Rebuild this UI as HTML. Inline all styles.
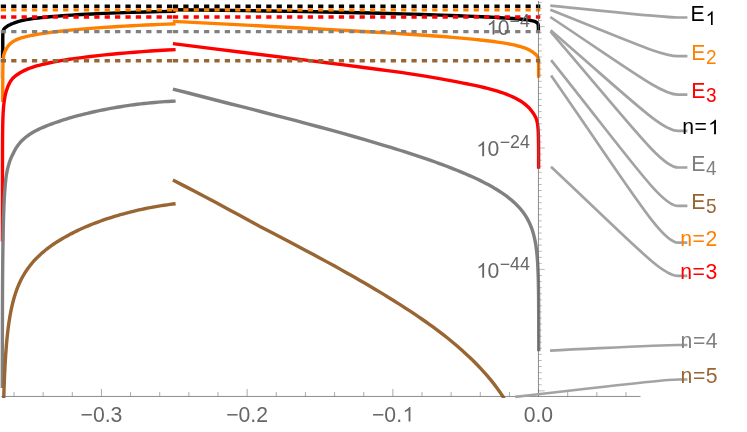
<!DOCTYPE html>
<html><head><meta charset="utf-8"><title>plot</title>
<style>html,body{margin:0;padding:0;background:#fff;}body{width:747px;height:432px;overflow:hidden;font-family:"Liberation Sans",sans-serif;}</style></head>
<body>
<svg width="747" height="432" viewBox="0 0 747 432" style="display:block">
<rect width="747" height="432" fill="#fff"/>
<defs><clipPath id="pc"><rect x="0" y="0" width="747" height="398"/></clipPath></defs>
<rect x="0" y="50" width="0.9" height="28.5" fill="#d3dbe4"/>
<g fill="none" stroke-linejoin="round" stroke-linecap="butt" clip-path="url(#pc)">
<path d="M2.76,58.00 L2.76,39.81 L2.78,36.99 L2.82,35.01 L2.85,34.07 L2.90,33.18 L2.97,32.43 L3.04,31.84 L3.13,31.30 L3.25,30.75 L3.40,30.28 L3.58,29.81 L3.71,29.54 L3.85,29.27 L4.17,28.79 L4.39,28.51 L4.58,28.31 L5.02,27.89 L5.46,27.53 L5.88,27.24 L6.24,27.02 L6.93,26.48 L7.41,26.14 L7.76,25.90 L8.32,25.56 L8.88,25.24 L9.44,24.95 L10.57,24.42 L11.13,24.18 L12.81,23.52 L13.37,23.28 L14.50,22.83 L15.62,22.42 L16.74,22.04 L17.86,21.68 L18.99,21.35 L20.67,20.91 L22.92,20.37 L25.16,19.89 L26.28,19.69 L28.53,19.31 L31.34,18.88 L34.70,18.42 L38.07,18.00 L41.44,17.62 L45.37,17.21 L49.86,16.77 L53.79,16.42 L57.72,16.09 L62.21,15.75 L66.70,15.42 L71.75,15.09 L76.24,14.81 L81.30,14.52 L86.35,14.25 L91.96,13.96 L98.14,13.67 L104.31,13.40 L111.05,13.12 L117.78,12.86 L124.52,12.63 L131.25,12.41 L145.29,11.99 L159.88,11.62 L175.60,11.28" stroke="#000000" stroke-width="3.4"/>
<path d="M172.90,9.78 L197.29,10.01 L220.79,10.27 L245.18,10.59 L268.67,10.94 L292.16,11.34 L314.75,11.76 L337.34,12.23 L359.93,12.75 L381.61,13.30 L402.39,13.88 L422.27,14.48 L441.24,15.12 L450.28,15.44 L458.41,15.75 L466.54,16.08 L474.67,16.42 L481.90,16.75 L488.22,17.06 L494.55,17.38 L499.97,17.68 L507.20,18.13 L513.52,18.57 L516.23,18.79 L518.94,19.02 L521.65,19.27 L523.46,19.46 L525.27,19.67 L527.08,19.90 L528.88,20.16 L530.69,20.46 L531.59,20.64 L532.50,20.84 L533.66,21.13 L534.59,21.42 L535.16,21.63 L535.80,21.91 L536.31,22.19 L536.52,22.33 L536.80,22.53 L536.97,22.67 L537.18,22.87 L537.47,23.20 L537.61,23.40 L537.73,23.60 L537.92,24.00 L538.07,24.46 L538.17,24.92 L538.25,25.45 L538.32,26.10 L538.35,26.82 L538.38,27.80 L538.40,31.00" stroke="#000000" stroke-width="3.4"/>
<path d="M2.74,102.00 L2.75,87.24 L2.78,78.00 L2.83,71.21 L2.91,66.23 L2.97,64.06 L3.03,62.53 L3.11,60.93 L3.22,59.40 L3.33,58.16 L3.47,56.98 L3.62,56.04 L3.79,55.15 L4.00,54.30 L4.25,53.50 L4.49,52.90 L4.69,52.29 L4.92,51.68 L5.16,51.08 L5.44,50.49 L5.86,49.73 L6.35,48.95 L6.62,48.42 L6.91,47.90 L7.39,47.11 L7.74,46.59 L8.30,45.83 L8.86,45.15 L9.42,44.53 L9.99,43.97 L10.55,43.45 L11.11,42.97 L11.67,42.52 L12.23,42.11 L12.79,41.72 L13.35,41.37 L14.48,40.72 L15.60,40.14 L16.72,39.60 L17.85,39.11 L18.97,38.66 L20.09,38.29 L21.21,37.95 L22.34,37.63 L23.46,37.32 L26.83,36.47 L29.63,35.82 L31.32,35.45 L32.44,35.23 L35.81,34.60 L38.62,34.11 L41.99,33.57 L45.92,32.98 L48.72,32.60 L53.21,32.03 L57.71,31.51 L62.76,30.95 L67.81,30.43 L73.42,29.89 L79.04,29.38 L84.65,28.90 L90.83,28.41 L97.56,27.90 L104.30,27.41 L111.04,26.96 L117.78,26.54 L124.51,26.14 L131.81,25.73 L138.55,25.38 L145.85,25.02 L153.14,24.69 L160.44,24.38 L167.74,24.10 L175.60,23.82" stroke="#ff8000" stroke-width="3.4"/>
<path d="M172.90,21.34 L271.44,26.45 L301.27,28.02 L326.59,29.39 L350.09,30.69 L371.79,31.93 L391.68,33.12 L408.85,34.20 L424.22,35.22 L431.46,35.73 L438.69,36.25 L445.92,36.81 L452.25,37.33 L458.58,37.86 L464.00,38.35 L469.43,38.85 L474.85,39.39 L480.27,39.95 L484.79,40.45 L489.31,40.99 L493.83,41.56 L497.45,42.06 L501.07,42.59 L504.68,43.17 L507.40,43.65 L509.20,43.98 L511.01,44.33 L513.72,44.90 L516.44,45.53 L519.15,46.23 L520.96,46.73 L521.86,47.01 L523.67,47.59 L524.57,47.91 L525.48,48.25 L526.38,48.61 L527.28,49.00 L528.19,49.41 L529.09,49.87 L530.00,50.36 L531.80,51.42 L532.71,52.02 L533.61,52.73 L534.13,53.18 L534.59,53.64 L535.00,53.93 L535.38,54.22 L535.86,54.64 L536.15,54.92 L536.63,55.43 L536.93,55.77 L537.26,56.22 L537.40,56.45 L537.46,56.58 L537.58,56.85 L537.73,57.26 L537.87,57.66 L537.98,58.07 L538.10,58.61 L538.24,59.59 L538.36,60.74 L538.44,61.90 L538.51,63.38 L538.55,65.03 L538.59,68.53 L538.61,77.70" stroke="#ff8000" stroke-width="3.4"/>
<path d="M2.44,241.40 L2.46,170.76 L2.49,153.90 L2.54,141.89 L2.58,136.25 L2.64,131.23 L2.70,126.82 L2.78,123.12 L2.87,119.57 L2.98,116.59 L3.11,113.68 L3.27,110.84 L3.40,109.00 L3.50,107.64 L3.76,104.98 L4.02,102.83 L4.53,99.17 L4.77,97.73 L4.94,96.78 L5.32,94.90 L5.53,93.97 L5.76,93.04 L6.00,92.13 L6.26,91.22 L6.54,90.32 L6.84,89.43 L7.16,88.55 L7.68,87.16 L8.25,85.73 L8.82,84.45 L9.39,83.29 L9.96,82.24 L10.52,81.32 L11.09,80.47 L11.65,79.68 L12.22,78.95 L12.78,78.29 L13.35,77.73 L13.91,77.21 L14.47,76.71 L15.03,76.25 L15.60,75.80 L16.16,75.38 L16.72,74.97 L17.84,74.22 L20.09,72.80 L20.65,72.46 L21.77,71.82 L22.90,71.21 L24.02,70.64 L25.14,70.10 L26.27,69.61 L27.39,69.14 L28.51,68.69 L29.63,68.26 L31.32,67.66 L32.44,67.28 L34.13,66.74 L35.81,66.23 L37.49,65.74 L39.18,65.28 L40.86,64.83 L42.55,64.41 L44.23,64.00 L46.48,63.48 L49.85,62.75 L52.09,62.30 L54.34,61.86 L58.83,61.03 L61.07,60.64 L63.88,60.17 L66.69,59.72 L69.49,59.29 L72.30,58.88 L75.67,58.40 L81.85,57.57 L85.21,57.15 L88.58,56.74 L98.13,55.64 L104.86,54.90 L111.60,54.22 L118.90,53.53 L126.76,52.84 L134.62,52.21 L142.48,51.62 L150.34,51.07 L158.76,50.54 L167.18,50.05 L175.60,49.60" stroke="#ff0000" stroke-width="3.4"/>
<path d="M172.90,43.63 L192.79,46.13 L214.49,48.84 L239.80,51.98 L305.80,60.12 L324.78,62.48 L341.96,64.64 L361.85,67.20 L379.02,69.46 L387.16,70.56 L395.30,71.67 L402.53,72.68 L408.86,73.59 L416.99,74.86 L425.13,76.18 L432.36,77.39 L439.59,78.65 L445.02,79.63 L450.44,80.64 L455.87,81.68 L459.48,82.35 L463.10,83.05 L466.72,83.76 L469.43,84.31 L474.85,85.45 L479.37,86.46 L483.89,87.52 L487.51,88.42 L490.22,89.12 L492.03,89.61 L495.65,90.63 L498.36,91.44 L500.17,92.02 L501.97,92.63 L503.78,93.26 L505.59,93.92 L507.40,94.62 L508.30,94.98 L510.11,95.72 L511.92,96.51 L513.73,97.35 L514.63,97.79 L516.44,98.70 L517.34,99.18 L518.25,99.68 L519.15,100.20 L520.05,100.74 L520.96,101.31 L521.86,101.90 L522.77,102.52 L523.67,103.18 L524.58,103.88 L525.48,104.62 L526.38,105.37 L527.29,106.16 L528.19,107.02 L529.10,107.95 L530.00,108.97 L530.90,110.09 L531.81,111.29 L532.71,112.41 L533.62,113.70 L534.13,114.54 L534.59,115.38 L535.01,116.09 L535.20,116.44 L535.55,117.15 L535.87,117.85 L536.15,118.55 L536.40,119.25 L536.52,119.62 L536.74,120.36 L536.93,121.10 L537.10,121.84 L537.26,122.57 L537.40,123.31 L537.52,124.08 L537.64,124.87 L537.78,126.04 L537.98,127.99 L538.08,129.16 L538.16,130.39 L538.29,132.95 L538.39,135.93 L538.46,138.91 L538.52,142.74 L538.56,147.00 L538.59,152.53 L538.61,168.80" stroke="#ff0000" stroke-width="3.4"/>
<path d="M2.32,388.00 L2.37,343.20 L2.46,308.27 L2.51,294.68 L2.58,281.35 L2.67,269.71 L2.78,258.27 L2.89,248.64 L3.04,239.21 L3.22,229.97 L3.40,222.45 L3.61,215.10 L3.87,207.92 L4.11,202.32 L4.24,199.57 L4.38,197.01 L4.70,192.02 L5.06,187.19 L5.26,184.84 L5.47,182.52 L5.70,180.25 L5.95,178.02 L6.08,176.95 L6.22,176.07 L6.65,173.49 L7.12,171.02 L7.47,169.43 L7.66,168.66 L8.23,166.44 L8.80,164.37 L9.38,162.45 L9.95,160.75 L10.51,159.23 L11.08,157.85 L11.65,156.59 L12.21,155.45 L12.78,154.40 L13.90,152.05 L14.47,150.94 L15.03,149.89 L15.59,148.91 L16.16,147.97 L16.72,147.09 L17.28,146.25 L17.84,145.45 L18.40,144.69 L18.97,143.97 L19.53,143.29 L20.09,142.63 L21.21,141.40 L22.34,140.26 L23.46,139.19 L24.58,138.19 L25.70,137.25 L26.83,136.38 L27.95,135.54 L29.07,134.75 L30.76,133.62 L31.32,133.26 L31.88,132.93 L33.00,132.28 L34.69,131.36 L36.37,130.48 L38.06,129.64 L39.74,128.84 L41.42,128.07 L43.67,127.09 L45.92,126.15 L48.16,125.26 L50.41,124.39 L52.65,123.56 L54.90,122.75 L57.71,121.78 L60.51,120.85 L63.32,119.95 L66.13,119.08 L68.93,118.24 L71.74,117.42 L75.11,116.48 L77.92,115.72 L81.28,114.83 L84.09,114.12 L87.46,113.29 L90.83,112.50 L94.20,111.73 L97.00,111.12 L100.37,110.41 L103.74,109.73 L107.11,109.07 L110.48,108.44 L113.85,107.84 L117.21,107.26 L120.58,106.70 L123.95,106.17 L127.32,105.67 L130.69,105.18 L134.06,104.73 L137.42,104.30 L140.79,103.89 L144.16,103.51 L148.09,103.09 L151.46,102.76 L154.83,102.45 L158.20,102.17 L161.56,101.91 L164.93,101.67 L168.30,101.46 L171.67,101.27 L175.60,101.09" stroke="#808080" stroke-width="3.4"/>
<path d="M172.90,89.09 L187.37,92.77 L201.84,96.48 L215.41,99.98 L228.97,103.50 L240.73,106.47 L251.58,109.22 L262.43,112.00 L272.38,114.56 L284.14,117.61 L295.90,120.70 L307.65,123.82 L318.50,126.74 L331.17,130.19 L342.92,133.45 L354.68,136.76 L365.53,139.88 L375.48,142.80 L385.43,145.78 L390.86,147.44 L395.38,148.83 L399.90,150.25 L404.42,151.68 L408.94,153.13 L413.46,154.60 L417.99,156.10 L422.51,157.62 L427.03,159.17 L430.65,160.42 L435.17,162.02 L438.79,163.33 L442.40,164.66 L446.02,166.01 L449.64,167.39 L453.26,168.80 L456.87,170.24 L459.59,171.34 L463.21,172.85 L465.92,174.00 L469.54,175.58 L472.25,176.80 L474.96,178.05 L477.68,179.33 L480.39,180.64 L483.10,182.00 L485.82,183.40 L487.62,184.36 L490.34,185.84 L492.15,186.85 L494.86,188.43 L496.67,189.52 L499.38,191.22 L501.19,192.41 L503.00,193.63 L504.81,194.90 L506.62,196.22 L508.42,197.60 L510.23,199.05 L511.14,199.80 L512.95,201.35 L513.85,202.17 L514.76,203.00 L515.66,203.87 L516.56,204.76 L517.47,205.68 L518.37,206.63 L519.28,207.62 L520.18,208.65 L521.09,209.72 L521.99,210.84 L522.89,212.02 L523.80,213.25 L524.70,214.55 L525.61,215.93 L526.51,217.39 L527.42,218.96 L528.32,220.64 L529.23,222.46 L530.13,224.44 L531.03,226.63 L531.94,229.07 L532.84,231.83 L533.75,235.03 L534.26,237.11 L534.72,239.18 L534.94,240.22 L535.33,242.27 L535.68,244.32 L536.00,246.37 L536.41,249.42 L536.65,251.46 L536.87,253.48 L537.06,255.51 L537.24,257.53 L537.39,259.54 L537.60,262.56 L537.71,264.57 L537.87,267.58 L538.08,272.59 L538.26,278.59 L538.40,284.58 L538.51,291.56 L538.59,299.54 L538.65,308.50 L538.70,319.44 L538.72,333.37 L538.74,351.25" stroke="#808080" stroke-width="3.4"/>
<path d="M3.75,398.00 L3.95,391.29 L4.26,382.63 L4.61,374.18 L4.91,367.97 L5.24,361.87 L5.61,355.90 L6.02,350.05 L6.49,344.32 L7.00,338.72 L7.56,333.33 L8.13,328.56 L8.69,324.31 L9.26,320.47 L9.82,316.98 L10.38,313.79 L10.95,310.85 L11.51,308.13 L12.07,305.61 L12.64,303.25 L13.20,301.05 L13.77,298.97 L14.33,297.02 L14.89,295.17 L15.46,293.41 L16.02,291.75 L16.59,290.17 L17.15,288.66 L17.71,287.21 L18.28,285.83 L18.84,284.50 L19.41,283.23 L19.97,282.00 L20.53,280.82 L21.10,279.69 L21.66,278.59 L22.22,277.53 L22.79,276.50 L23.35,275.50 L24.48,273.60 L25.04,272.69 L26.17,270.95 L26.74,270.11 L27.86,268.49 L28.43,267.72 L29.56,266.22 L30.12,265.49 L31.25,264.09 L32.37,262.75 L33.50,261.46 L34.63,260.22 L35.76,259.02 L36.89,257.87 L38.58,256.20 L39.71,255.14 L41.40,253.60 L42.52,252.62 L44.22,251.19 L45.34,250.26 L47.04,248.92 L48.73,247.63 L50.42,246.39 L52.11,245.18 L53.80,244.01 L55.49,242.88 L57.19,241.79 L58.88,240.72 L60.57,239.68 L62.26,238.67 L64.52,237.37 L66.21,236.42 L68.46,235.19 L70.15,234.29 L72.41,233.13 L74.67,232.00 L76.92,230.90 L79.18,229.83 L81.43,228.80 L83.69,227.79 L85.94,226.81 L88.20,225.86 L90.45,224.93 L92.71,224.03 L94.97,223.15 L97.22,222.29 L100.04,221.25 L102.30,220.45 L105.12,219.47 L107.37,218.71 L110.19,217.78 L112.45,217.06 L115.26,216.19 L117.52,215.52 L120.34,214.70 L122.60,214.06 L125.41,213.29 L128.23,212.55 L131.05,211.83 L133.31,211.28 L136.13,210.61 L138.95,209.96 L141.77,209.34 L144.59,208.74 L147.41,208.17 L150.23,207.62 L153.04,207.10 L155.86,206.59 L158.68,206.11 L161.50,205.66 L164.32,205.22 L167.14,204.81 L169.96,204.42 L172.78,204.05 L175.60,203.70" stroke="#996633" stroke-width="3.4"/>
<path d="M172.90,179.99 L184.68,186.12 L195.56,191.81 L206.43,197.53 L216.40,202.80 L228.18,209.13 L239.06,215.01 L249.93,220.94 L259.90,226.42 L271.68,232.52 L281.65,237.72 L289.81,242.00 L305.21,250.15 L313.37,254.50 L318.81,257.43 L326.97,261.87 L334.22,265.85 L339.65,268.87 L345.09,271.91 L350.53,274.98 L355.06,277.56 L359.59,280.17 L365.03,283.32 L370.47,286.51 L375.00,289.20 L379.53,291.91 L384.06,294.66 L388.59,297.43 L393.12,300.25 L397.65,303.09 L401.28,305.40 L405.81,308.32 L409.44,310.69 L413.97,313.70 L417.59,316.14 L422.12,319.25 L425.75,321.77 L429.37,324.34 L433.00,326.95 L436.62,329.61 L440.25,332.32 L443.87,335.14 L447.50,338.02 L451.12,340.97 L453.84,343.23 L457.47,346.30 L460.19,348.67 L462.00,350.27 L463.81,351.90 L466.53,354.39 L469.25,356.94 L471.97,359.55 L474.69,362.24 L477.41,365.00 L480.12,367.85 L482.84,370.79 L485.56,373.83 L487.37,375.92 L489.19,378.06 L490.09,379.15 L491.91,381.38 L493.72,383.67 L494.62,384.84 L496.44,387.24 L498.25,389.72 L499.16,390.99 L500.97,393.60 L501.87,394.94 L503.69,397.70 L503.69,398.00" stroke="#996633" stroke-width="3.4"/>
<path d="M0.8,6.2 H175.5" stroke="#000000" stroke-width="3.4" stroke-dasharray="5.25 5.135"/>
<path d="M172.95,6.2 H540.3" stroke="#000000" stroke-width="3.4" stroke-dasharray="5.2 5.17"/>
<path d="M0.8,9.9 H175.5" stroke="#ff8000" stroke-width="3.4" stroke-dasharray="5.25 5.135"/>
<path d="M172.95,9.9 H540.3" stroke="#ff8000" stroke-width="3.4" stroke-dasharray="5.2 5.17"/>
<path d="M0.8,17.0 H175.5" stroke="#ff0000" stroke-width="3.4" stroke-dasharray="5.25 5.135"/>
<path d="M172.95,17.0 H540.3" stroke="#ff0000" stroke-width="3.4" stroke-dasharray="5.2 5.17"/>
<path d="M0.8,31.6 H175.5" stroke="#808080" stroke-width="3.4" stroke-dasharray="5.25 5.135"/>
<path d="M172.95,31.6 H540.3" stroke="#808080" stroke-width="3.4" stroke-dasharray="5.2 5.17"/>
<path d="M0.8,60.8 H175.5" stroke="#996633" stroke-width="3.4" stroke-dasharray="5.25 5.135"/>
<path d="M172.95,60.8 H540.3" stroke="#996633" stroke-width="3.4" stroke-dasharray="5.2 5.17"/>
</g>
<g fill="none" stroke-linecap="butt">
<path d="M1.2,396.45 H640.5" stroke="#666666" stroke-width="0.75"/>
<path d="M538.45,1 V396.45" stroke="#666666" stroke-width="0.75"/>
<path d="M14.03,396.45 v-4.4 M43.17,396.45 v-4.4 M72.31,396.45 v-4.4 M101.45,396.45 v-7.4 M130.59,396.45 v-4.4 M159.73,396.45 v-4.4 M188.87,396.45 v-4.4 M218.01,396.45 v-4.4 M247.15,396.45 v-7.4 M276.29,396.45 v-4.4 M305.43,396.45 v-4.4 M334.57,396.45 v-4.4 M363.71,396.45 v-4.4 M392.85,396.45 v-7.4 M421.99,396.45 v-4.4 M451.13,396.45 v-4.4 M480.27,396.45 v-4.4 M509.41,396.45 v-4.4 M538.55,396.45 v-7.4 M567.69,396.45 v-4.4 M596.83,396.45 v-4.4 M625.97,396.45 v-4.4" stroke="#666666" stroke-width="0.55"/>
<path d="M538.45,2.37 h3.3 M538.45,8.44 h3.3 M538.45,14.51 h3.3 M538.45,20.58 h3.3 M538.45,26.65 h6.3 M538.45,32.72 h3.3 M538.45,38.79 h3.3 M538.45,44.86 h3.3 M538.45,50.93 h3.3 M538.45,57.00 h3.3 M538.45,63.07 h3.3 M538.45,69.14 h3.3 M538.45,75.21 h3.3 M538.45,81.28 h3.3 M538.45,87.35 h3.3 M538.45,93.42 h3.3 M538.45,99.49 h3.3 M538.45,105.56 h3.3 M538.45,111.63 h3.3 M538.45,117.70 h3.3 M538.45,123.77 h3.3 M538.45,129.84 h3.3 M538.45,135.91 h3.3 M538.45,141.98 h3.3 M538.45,148.05 h6.3 M538.45,154.12 h3.3 M538.45,160.19 h3.3 M538.45,166.26 h3.3 M538.45,172.33 h3.3 M538.45,178.40 h3.3 M538.45,184.47 h3.3 M538.45,190.54 h3.3 M538.45,196.61 h3.3 M538.45,202.68 h3.3 M538.45,208.75 h3.3 M538.45,214.82 h3.3 M538.45,220.89 h3.3 M538.45,226.96 h3.3 M538.45,233.03 h3.3 M538.45,239.10 h3.3 M538.45,245.17 h3.3 M538.45,251.24 h3.3 M538.45,257.31 h3.3 M538.45,263.38 h3.3 M538.45,269.45 h6.3 M538.45,275.52 h3.3 M538.45,281.59 h3.3 M538.45,287.66 h3.3 M538.45,293.73 h3.3 M538.45,299.80 h3.3 M538.45,305.87 h3.3 M538.45,311.94 h3.3 M538.45,318.01 h3.3 M538.45,324.08 h3.3 M538.45,330.15 h3.3 M538.45,336.22 h3.3 M538.45,342.29 h3.3 M538.45,348.36 h3.3 M538.45,354.43 h3.3 M538.45,360.50 h3.3 M538.45,366.57 h3.3 M538.45,372.64 h3.3 M538.45,378.71 h3.3 M538.45,384.78 h3.3 M538.45,390.85 h6.3" stroke="#666666" stroke-width="0.45"/>
</g>
<g font-family="Liberation Sans, sans-serif" style="will-change:transform">
<text x="80.52" y="421.50" font-size="21.2" fill="#666666">−0.3</text>
<text x="226.17" y="421.50" font-size="21.2" fill="#666666">−0.2</text>
<text x="371.97" y="421.50" font-size="21.2" fill="#666666">−0.</text>
<path d="M763,0 H583 V1147 Q518,1085 412.5,1023 Q307,961 223,930 V1104 Q374,1175 487,1276 Q600,1377 647,1472 H763 Z" fill="#666666" transform="translate(402.54,421.50) scale(0.01035,-0.00991)"/>
<text x="523.71" y="421.50" font-size="21.2" fill="#666666">0.0</text>
<path d="M763,0 H583 V1147 Q518,1085 412.5,1023 Q307,961 223,930 V1104 Q374,1175 487,1276 Q600,1377 647,1472 H763 Z" fill="#666666" transform="translate(486.52,34.60) scale(0.01035,-0.00991)"/>
<text x="497.81" y="34.60" font-size="21.2" fill="#666666">0</text>
<text x="509.56" y="26.50" font-size="17.75" fill="#666666">−4</text>
<path d="M763,0 H583 V1147 Q518,1085 412.5,1023 Q307,961 223,930 V1104 Q374,1175 487,1276 Q600,1377 647,1472 H763 Z" fill="#666666" transform="translate(476.22,156.20) scale(0.01035,-0.00991)"/>
<text x="487.51" y="156.20" font-size="21.2" fill="#666666">0</text>
<text x="499.69" y="148.10" font-size="17.75" fill="#666666">−24</text>
<path d="M763,0 H583 V1147 Q518,1085 412.5,1023 Q307,961 223,930 V1104 Q374,1175 487,1276 Q600,1377 647,1472 H763 Z" fill="#666666" transform="translate(476.22,277.70) scale(0.01035,-0.00991)"/>
<text x="487.51" y="277.70" font-size="21.2" fill="#666666">0</text>
<text x="499.69" y="269.60" font-size="17.75" fill="#666666">−44</text>
</g>
<g fill="none" stroke="#a3a3a3" stroke-width="2.7" stroke-linecap="butt">
<path d="M550.3,5.7 C634.52,14.20 662.0,17.5 678.0,17.5 H687.4"/>
<path d="M550.3,9.8 C634.52,43.21 662.0,56.2 678.0,56.2 H687.4"/>
<path d="M550.3,17.0 C634.52,72.94 662.0,94.7 678.0,94.7 H687.4"/>
<path d="M550.6,30.3 C634.60,102.73 662.0,130.9 678.0,130.9 H687.4"/>
<path d="M550.6,31.6 C634.60,129.45 662.0,167.5 678.0,167.5 H687.4"/>
<path d="M551.1,60.1 C634.72,165.11 662.0,205.95 678.0,205.95 H687.4"/>
<path d="M551.1,75.5 C634.72,195.81 662.0,242.6 678.0,242.6 H687.4"/>
<path d="M551.0,166.8 C634.69,245.39 662.0,275.95 678.0,275.95 H687.4"/>
<path d="M550.0,350.6 C634.45,346.57 662.0,345.0 678.0,345.0 H687.4"/>
<path d="M515.2,396.9 C625.89,384.37 662.0,379.5 678.0,379.5 H687.4"/>
</g>
<g font-family="Liberation Sans, sans-serif" style="will-change:transform">
<text x="690.56" y="20.85" font-size="21.2" fill="#000000">E</text>
<g transform="translate(705.10,24.95) scale(0.95,1)">
<path d="M763,0 H583 V1147 Q518,1085 412.5,1023 Q307,961 223,930 V1104 Q374,1175 487,1276 Q600,1377 647,1472 H763 Z" fill="#000000" transform="translate(0.50,0.00) scale(0.00977,-0.00935)"/>
</g>
<text x="691.36" y="59.55" font-size="21.2" fill="#ff8000">E</text>
<g transform="translate(705.90,63.65) scale(0.95,1)">
<text x="0.00" y="0.00" font-size="20.0" fill="#ff8000">2</text>
</g>
<text x="691.36" y="98.05" font-size="21.2" fill="#ff0000">E</text>
<g transform="translate(705.90,102.15) scale(0.95,1)">
<text x="0.00" y="0.00" font-size="20.0" fill="#ff0000">3</text>
</g>
<text x="682.20" y="134.25" font-size="21.2" fill="#000000" letter-spacing="0.6">n=</text>
<path d="M763,0 H583 V1147 Q518,1085 412.5,1023 Q307,961 223,930 V1104 Q374,1175 487,1276 Q600,1377 647,1472 H763 Z" fill="#000000" transform="translate(708.07,134.25) scale(0.01035,-0.00991)"/>
<text x="691.36" y="170.85" font-size="21.2" fill="#808080">E</text>
<g transform="translate(705.90,174.95) scale(0.95,1)">
<text x="0.00" y="0.00" font-size="20.0" fill="#808080">4</text>
</g>
<text x="691.36" y="209.30" font-size="21.2" fill="#996633">E</text>
<g transform="translate(705.90,213.40) scale(0.95,1)">
<text x="0.00" y="0.00" font-size="20.0" fill="#996633">5</text>
</g>
<text x="680.20" y="245.95" font-size="21.2" fill="#ff8000" letter-spacing="0.6">n=2</text>
<text x="680.20" y="279.30" font-size="21.2" fill="#ff0000" letter-spacing="0.6">n=3</text>
<text x="680.50" y="348.35" font-size="21.2" fill="#808080" letter-spacing="0.6">n=4</text>
<text x="680.50" y="382.85" font-size="21.2" fill="#996633" letter-spacing="0.6">n=5</text>
</g>
</svg>
</body></html>
